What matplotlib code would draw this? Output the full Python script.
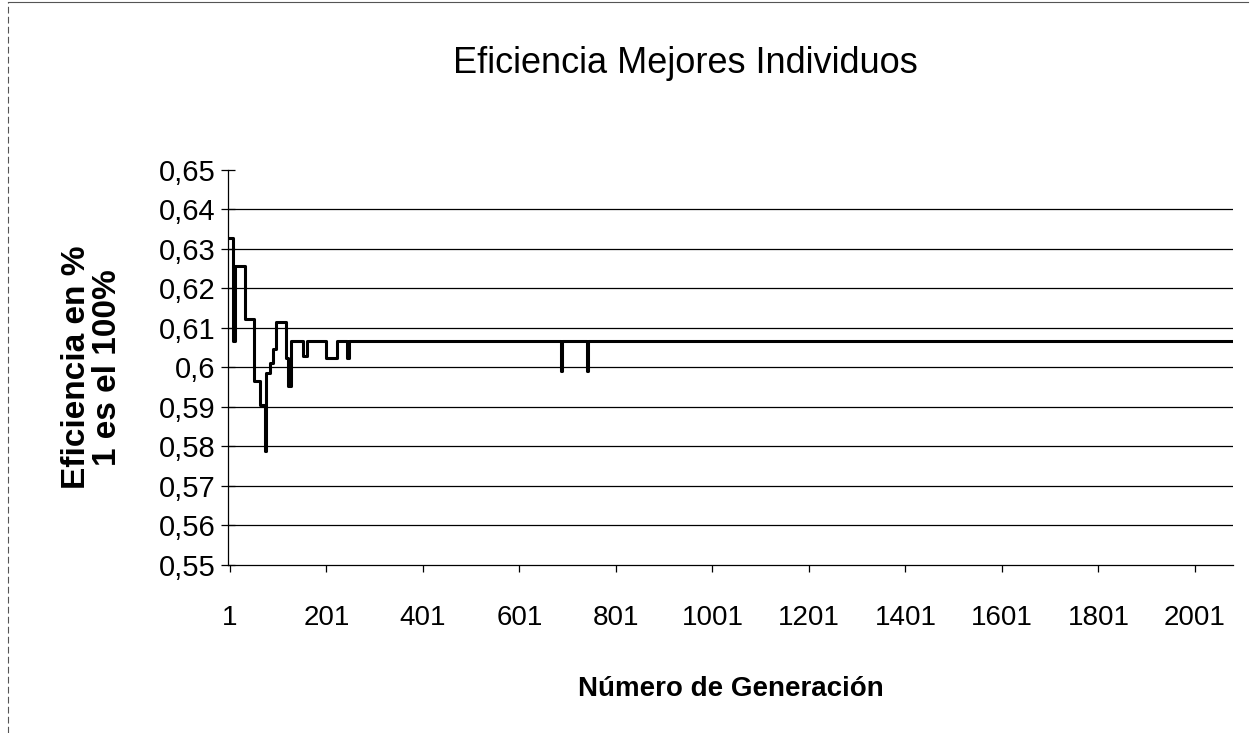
#!/usr/bin/env python3

import matplotlib
matplotlib.use("Agg")
import matplotlib.pyplot as plt
from matplotlib.lines import Line2D

plt.rcParams['font.family'] = ['Liberation Sans', 'DejaVu Sans']

# Generation where the best-individual efficiency changes, and the new value
generations = [1, 8, 11, 32, 51, 63, 73, 75, 84, 90, 96, 117, 121, 127,
               152, 161, 201, 223, 243, 248, 688, 689, 742, 743, 2079]
efficiency = [0.6327, 0.6068, 0.6256, 0.6123, 0.5965, 0.5905, 0.5789, 0.5986,
              0.6012, 0.6046, 0.6116, 0.6025, 0.5952, 0.6068,
              0.6029, 0.6068, 0.6025, 0.6068, 0.6025, 0.6068,
              0.5990, 0.6068, 0.5990, 0.6068, 0.6068]

x_ticks = [1, 201, 401, 601, 801, 1001, 1201, 1401, 1601, 1801, 2001]
y_ticks = [0.55, 0.56, 0.57, 0.58, 0.59, 0.60, 0.61, 0.62, 0.63, 0.64, 0.65]
y_tick_labels = ["0,55", "0,56", "0,57", "0,58", "0,59", "0,6",
                 "0,61", "0,62", "0,63", "0,64", "0,65"]

fig = plt.figure(figsize=(12.51, 7.33), dpi=100)
ax = fig.add_axes([0.1823, 0.2292, 0.8033, 0.5389])

ax.plot(generations, efficiency, color="black", linewidth=2.2, drawstyle="steps-post")

# horizontal grid lines (none at the top value)
for y in y_ticks[1:-1]:
    ax.axhline(y, color="black", linewidth=0.9, zorder=0)

ax.set_xlim(-3, 2080)
ax.set_ylim(0.55, 0.65)
ax.set_xticks(x_ticks)
ax.set_xticklabels([str(t) for t in x_ticks])
ax.set_yticks(y_ticks)
ax.set_yticklabels(y_tick_labels)

ax.spines["top"].set_visible(False)
ax.spines["right"].set_visible(False)
ax.spines["left"].set_linewidth(0.9)
ax.spines["bottom"].set_linewidth(0.9)

ax.tick_params(axis="y", direction="inout", length=10, width=0.9, labelsize=21, pad=4)
ax.tick_params(axis="x", direction="out", length=5, width=0.9, labelsize=20, pad=24)

ax.set_xlabel("Número de Generación", fontsize=20, fontweight="bold", labelpad=32)
ax.set_ylabel("Eficiencia en %\n1 es el 100%", fontsize=24, fontweight="bold",
              labelpad=26, linespacing=1.0)

fig.text(0.548, 0.913, "Eficiencia Mejores Individuos", fontsize=26,
         ha="center", va="center")

# chart area border (top and left)
fig.add_artist(Line2D([0.006, 0.006], [0.0, 0.997], color="#555555", linewidth=0.8,
                      linestyle=(0, (6, 3))))
fig.add_artist(Line2D([0.006, 0.998], [0.997, 0.997], color="#555555", linewidth=0.8))

plt.savefig("out.png", dpi=100)
plt.close()
